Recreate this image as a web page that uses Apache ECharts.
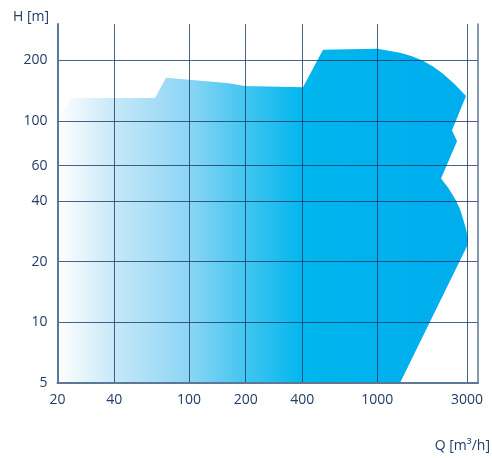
<!DOCTYPE html>
<html>
<head>
<meta charset="utf-8">
<script src="https://cdn.jsdelivr.net/npm/echarts@6/dist/echarts.min.js"></script>
<style>html,body{margin:0;padding:0;background:#fff}#c{width:492px;height:458px}</style>
</head>
<body>
<div id="c"></div>
<script>
// Outline of the pump performance range (Q in m³/h, H in m), clockwise
const flowQ = [20, 20, 23.6, 65.9, 75.4, 100, 159, 198, 403, 515, 1000, 1169, 1321, 1530, 1750, 1978, 2236, 2588, 2962, 2496, 2654, 2182, 2377, 2588, 2752, 2856, 2962, 3035, 2998, 1321];
const headH = [5, 102, 130, 130, 163.7, 160, 154.5, 149, 147, 226, 228.5, 222.6, 218.3, 209.7, 199.1, 186.2, 171.4, 151.9, 133.1, 89.9, 79.2, 51.8, 46.7, 41.1, 36.6, 32.7, 29.1, 25.9, 23.9, 5];
const xTicks = [20, 40, 100, 200, 400, 1000, 3000];
const yTicks = [5, 10, 20, 40, 60, 100, 200];
const xRange = [20, 3430];
const yRange = [5, 303];

const labelColor = '#1f3d66';
const gridColor = 'rgba(22,55,100,0.78)';
const axisColor = '#5b7896';
const font = '"Open Sans", "Noto Sans", sans-serif';

const chart = echarts.init(document.getElementById('c'), null, {renderer: 'canvas'});
chart.setOption({
  animation: false,
  grid: {left: 57.5, right: 14, top: 24, bottom: 75, containLabel: false},
  xAxis: {
    type: 'log', logBase: 10, min: xRange[0], max: xRange[1], z: 5,
    axisLine: {show: true, lineStyle: {color: axisColor, width: 2}},
    axisTick: {show: false, customValues: xTicks},
    axisLabel: {customValues: xTicks, color: labelColor, fontFamily: font, fontSize: 14, margin: 10,
      formatter: v => String(Math.round(v))},
    splitLine: {show: true, lineStyle: {color: gridColor, width: 1}},
    minorSplitLine: {show: false}
  },
  yAxis: [{
    type: 'log', logBase: 10, min: yRange[0], max: yRange[1], z: 5,
    axisLine: {show: true, lineStyle: {color: axisColor, width: 2}},
    axisTick: {show: false, customValues: yTicks},
    axisLabel: {customValues: yTicks, color: labelColor, fontFamily: font, fontSize: 14, margin: 10,
      formatter: v => String(Math.round(v))},
    splitLine: {show: true, lineStyle: {color: gridColor, width: 1}}
  }, {
    type: 'log', logBase: 10, min: yRange[0], max: yRange[1], position: 'right', z: 5,
    axisLine: {show: true, lineStyle: {color: axisColor, width: 1.5}},
    axisTick: {show: false}, axisLabel: {show: false}, splitLine: {show: false}
  }],
  graphic: [
    {type: 'text', left: 13, top: 10, style: {text: 'H [m]', fill: labelColor, font: '14px ' + font}},
    {type: 'text', right: 2, top: 439, style: {text: 'Q [m³/h]', fill: labelColor, font: '14px ' + font}}
  ],
  series: [{
    type: 'custom',
    coordinateSystem: 'cartesian2d',
    xAxisIndex: 0, yAxisIndex: 0,
    z: 1,
    data: [[flowQ[0], headH[0]]],
    renderItem: function (params, api) {
      const pts = flowQ.map((q, i) => api.coord([q, headH[i]]));
      return {
        type: 'polygon',
        shape: {points: pts},
        style: {
          fill: new echarts.graphic.LinearGradient(0, 0, 1, 0, [
            {offset: 0, color: '#ffffff'},
            {offset: 0.14, color: '#c6e8f8'},
            {offset: 0.32, color: '#8cd5f4'},
            {offset: 0.46, color: '#40c5f0'},
            {offset: 0.6, color: '#00b6ee'},
            {offset: 1, color: '#00adee'}
          ]),
          stroke: null
        }
      };
    }
  }]
});
</script>
</body>
</html>
